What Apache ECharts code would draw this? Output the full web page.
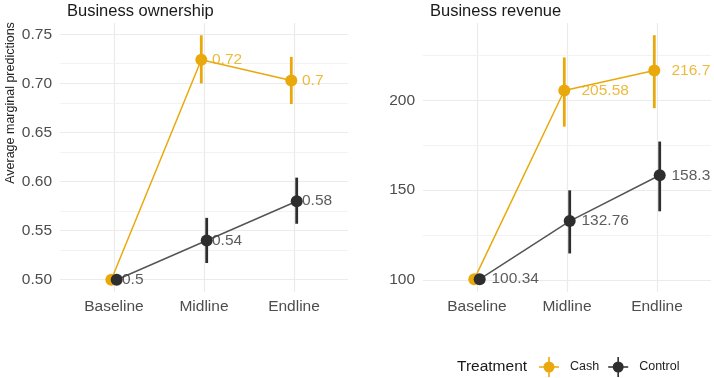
<!DOCTYPE html>
<html>
<head>
<meta charset="utf-8">
<script src="https://cdn.jsdelivr.net/npm/echarts@6/dist/echarts.min.js"></script>
<style>
  html, body { margin: 0; padding: 0; background: #fff; }
  #chart { width: 714px; height: 378px; }
</style>
</head>
<body>
<div id="chart"></div>
<script>
// Survey rounds on the x axis
const categories = ['Baseline', 'Midline', 'Endline'];

// Business ownership: average marginal predictions with 95% intervals
const cashOwnership = [0.5, 0.724, 0.703];
const cashOwnershipLow = [0.5, 0.700, 0.679];
const cashOwnershipHigh = [0.5, 0.749, 0.727];
const controlOwnership = [0.5, 0.540, 0.580];
const controlOwnershipLow = [0.5, 0.517, 0.557];
const controlOwnershipHigh = [0.5, 0.563, 0.604];

// Business revenue: average marginal predictions with 95% intervals
const cashRevenue = [100.34, 205.58, 216.7];
const cashRevenueLow = [100.34, 185.4, 195.7];
const cashRevenueHigh = [100.34, 224.0, 236.4];
const controlRevenue = [100.34, 132.76, 158.3];
const controlRevenueLow = [100.34, 114.7, 138.2];
const controlRevenueHigh = [100.34, 149.9, 177.1];

// Axis ticks
const ownershipTicks = [0.50, 0.55, 0.60, 0.65, 0.70, 0.75];
const ownershipMinor = [0.525, 0.575, 0.625, 0.675, 0.725];
const revenueTicks = [100, 150, 200];
const revenueMinor = [125, 175, 225];

const CASH = '#E9A90C';
const CONTROL_PT = '#2E2E2E';
const CONTROL_LINE = '#555555';
const DODGE = 0.03;
const FONT = 'Liberation Sans, Arial, Helvetica, sans-serif';

const chart = echarts.init(document.getElementById('chart'), null, { renderer: 'canvas' });

function fmt(v) { return String(parseFloat(v.toFixed(2))); }

function pts(vals, shift) { return vals.map((v, i) => [i + shift, v]); }
function bars(lo, hi, shift) { return lo.map((l, i) => [i + shift, l, hi[i]]); }

function errorRender(color) {
  return function (params, api) {
    const a = api.coord([api.value(0), api.value(1)]);
    const b = api.coord([api.value(0), api.value(2)]);
    return {
      type: 'line',
      shape: { x1: a[0], y1: a[1], x2: b[0], y2: b[1] },
      style: { stroke: color, lineWidth: 2.8 }
    };
  };
}

function panelSeries(idx, cash, cashLo, cashHi, ctrl, ctrlLo, ctrlHi, majors, minors, labelGap) {
  const ax = { xAxisIndex: idx, yAxisIndex: idx };
  const vertical = categories.map((c, i) => ({ xAxis: i }));
  const gridMajor = majors.map(v => ({ yAxis: v }));
  const gridMinor = minors.map(v => ({ yAxis: v }));
  return [
    // panel grid lines
    Object.assign({
      type: 'line', data: [], z: 0, silent: true,
      markLine: {
        silent: true, symbol: 'none', z: 0, animation: false,
        label: { show: false },
        lineStyle: { color: '#EBEBEB', width: 1.2, type: 'solid' },
        data: vertical.concat(gridMajor)
      }
    }, ax),
    Object.assign({
      type: 'line', data: [], z: 0, silent: true,
      markLine: {
        silent: true, symbol: 'none', z: 0, animation: false,
        label: { show: false },
        lineStyle: { color: '#F1F1F1', width: 0.9, type: 'solid' },
        data: gridMinor
      }
    }, ax),
    Object.assign({
      name: 'Cash', type: 'line', data: pts(cash, -DODGE), z: 2,
      symbol: 'circle', symbolSize: 12, showSymbol: true,
      itemStyle: { color: CASH }, lineStyle: { color: CASH, width: 1.5 }
    }, ax),
    Object.assign({
      name: 'Cash', type: 'custom', data: bars(cashLo, cashHi, -DODGE), z: 2,
      renderItem: errorRender(CASH), encode: { x: 0, y: [1, 2] }
    }, ax),
    Object.assign({
      name: 'Control', type: 'line', data: pts(ctrl, DODGE), z: 3,
      symbol: 'circle', symbolSize: 12, showSymbol: true,
      itemStyle: { color: CONTROL_PT }, lineStyle: { color: CONTROL_LINE, width: 1.5 }
    }, ax),
    Object.assign({
      name: 'Control', type: 'custom', data: bars(ctrlLo, ctrlHi, DODGE), z: 3,
      renderItem: errorRender(CONTROL_PT), encode: { x: 0, y: [1, 2] }
    }, ax),
    // value labels; where both groups share a value only one label is drawn
    Object.assign({
      type: 'scatter', data: pts(cash, 0), z: 5, silent: true,
      symbolSize: 1, itemStyle: { color: 'transparent' },
      label: {
        show: true, position: 'right', distance: labelGap,
        formatter: p => (cash[p.dataIndex] === ctrl[p.dataIndex] ? '' : fmt(p.value[1])),
        color: CASH, fontSize: 15.5, fontFamily: FONT
      }
    }, ax),
    Object.assign({
      type: 'scatter', data: pts(ctrl, 0), z: 6, silent: true,
      symbolSize: 1, itemStyle: { color: 'transparent' },
      label: {
        show: true, position: 'right', distance: labelGap,
        formatter: p => fmt(p.value[1]),
        color: '#333333', fontSize: 15.5, fontFamily: FONT
      }
    }, ax)
  ];
}

function xAxis(gridIndex) {
  return {
    type: 'value', gridIndex: gridIndex, min: -0.6, max: 2.6,
    axisLine: { show: false }, axisTick: { show: false }, splitLine: { show: false },
    axisLabel: {
      customValues: [0, 1, 2],
      formatter: v => categories[Math.round(v)],
      color: '#4D4D4D', fontSize: 15.5, fontFamily: FONT, margin: 7
    }
  };
}

function yAxis(gridIndex, min, max, ticks, formatter) {
  return {
    type: 'value', gridIndex: gridIndex, min: min, max: max,
    axisLine: { show: false }, axisTick: { show: false }, splitLine: { show: false },
    axisLabel: {
      customValues: ticks, formatter: formatter,
      color: '#4D4D4D', fontSize: 15.5, fontFamily: FONT, margin: 8
    }
  };
}

const option = {
  animation: false,
  backgroundColor: '#ffffff',
  textStyle: { fontFamily: FONT },
  grid: [
    { left: 60, top: 23, width: 288, height: 269 },
    { left: 423, top: 23, width: 288, height: 269 }
  ],
  xAxis: [xAxis(0), xAxis(1)],
  yAxis: [
    yAxis(0, 0.4875, 0.7615, ownershipTicks, v => v.toFixed(2)),
    yAxis(1, 93.2, 243.2, revenueTicks, v => String(v))
  ],
  title: [
    { text: 'Business ownership', left: 67, top: 3, padding: 0,
      textStyle: { fontSize: 16.5, fontWeight: 'normal', color: '#1A1A1A', fontFamily: FONT } },
    { text: 'Business revenue', left: 430, top: 3, padding: 0,
      textStyle: { fontSize: 16.5, fontWeight: 'normal', color: '#1A1A1A', fontFamily: FONT } }
  ],
  legend: {
    data: ['Cash', 'Control'],
    left: 539, top: 357, padding: 0, orient: 'horizontal',
    itemWidth: 20, itemHeight: 20, itemGap: 9,
    icon: 'path://M0,9.2H20V10.8H0Z M9.2,0H10.8V20H9.2Z M15.5,10A5.5,5.5 0 1,1 4.5,10A5.5,5.5 0 1,1 15.5,10Z',
    textStyle: { fontSize: 12.5, color: '#222222', fontFamily: FONT, padding: [0, 0, 0, 6] },
    selectedMode: false
  },
  graphic: [
    {
      type: 'text', x: 11, y: 103, rotation: Math.PI / 2,
      style: {
        text: 'Average marginal predictions', fontSize: 12.5, fontFamily: FONT,
        fill: '#222222', align: 'center', verticalAlign: 'middle'
      }
    },
    {
      type: 'text', x: 457, y: 367,
      style: {
        text: 'Treatment', fontSize: 15.5, fontFamily: FONT,
        fill: '#1A1A1A', align: 'left', verticalAlign: 'middle'
      }
    }
  ],
  series: [].concat(
    panelSeries(0, cashOwnership, cashOwnershipLow, cashOwnershipHigh,
      controlOwnership, controlOwnershipLow, controlOwnershipHigh,
      ownershipTicks, ownershipMinor, 7.5),
    panelSeries(1, cashRevenue, cashRevenueLow, cashRevenueHigh,
      controlRevenue, controlRevenueLow, controlRevenueHigh,
      revenueTicks, revenueMinor, 14)
  )
};

chart.setOption(option);
</script>
</body>
</html>
